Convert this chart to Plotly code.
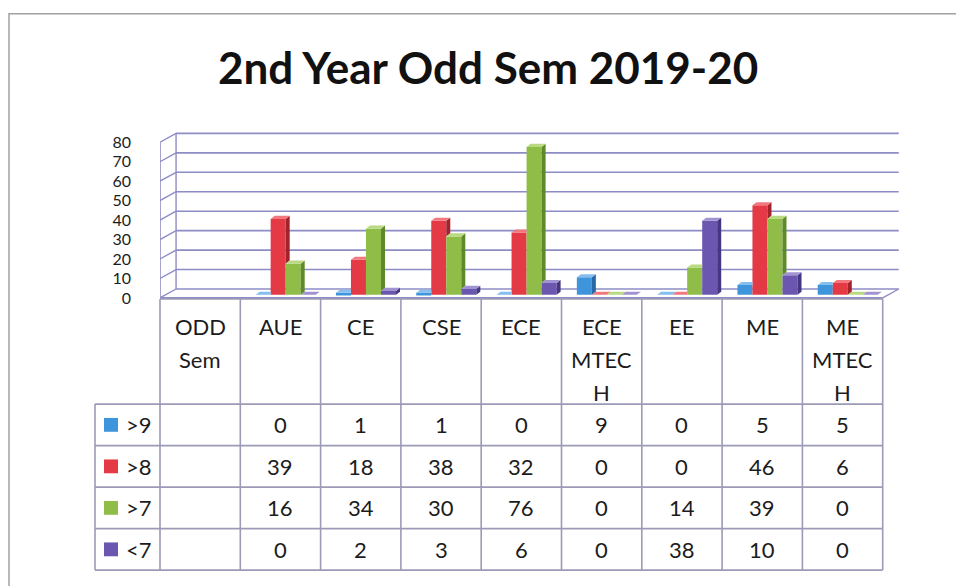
import plotly.graph_objects as go

# ---------------- data ----------------
categories = ["ODD Sem", "AUE", "CE", "CSE", "ECE", "ECE MTECH", "EE", "ME", "ME MTECH"]
header_labels = ["ODD<br>Sem", "AUE", "CE", "CSE", "ECE", "ECE<br>MTEC<br>H", "EE", "ME", "ME<br>MTEC<br>H"]
series_names = [">9", ">8", ">7", "<7"]
s_gt9 = [None, 0, 1, 1, 0, 9, 0, 5, 5]
s_gt8 = [None, 39, 18, 38, 32, 0, 0, 46, 6]
s_gt7 = [None, 16, 34, 30, 76, 0, 14, 39, 0]
s_lt7 = [None, 0, 2, 3, 6, 0, 38, 10, 0]
y_ticks = [0, 10, 20, 30, 40, 50, 60, 70, 80]
title_text = "2nd Year Odd Sem 2019-20"

series_values = [s_gt9, s_gt8, s_gt7, s_lt7]
front_cols = ["#3f95dc", "#e43a46", "#8fbd48", "#6c57b0"]
side_cols = ["#2768a6", "#a3232d", "#5f8a2b", "#463783"]
top_cols = ["#84bff0", "#f2777f", "#b9d982", "#a192d2"]

# ---------------- layout geometry ----------------
W, H = 956, 586
X0, U = 160.0, 80.3          # px of category -0.5, px per category
Y0, V = 301.5, 1.969         # px of value 0 (front plane), px per unit
XR = (-0.5, 8.75)
YR = (-1.0, 86.0)
DX, DY = 0.2, 4.57           # depth of the walls (data units)
DXB, BASE = 0.065, 1.6       # bar row position inside the depth
BW = 0.187                   # bar width
SDX, SDY = 0.05, 1.6         # bar depth

def px_x(u):
    return X0 + (u - XR[0]) * U

def px_y(v):
    return Y0 - v * V

def PX(p):
    return p / W

def PY(p):
    return 1 - p / H

GRID = "#8e8cc4"
TLINE = "#9c9ab6"
FONT = "Lato"
TXT = "#1c1c1c"

fig = go.Figure()

# ---------------- bars ----------------
nc = len(categories)
for k, (name, vals) in enumerate(zip(series_names, series_values)):
    xs, ys = [], []
    for i, v in enumerate(vals):
        if v is None:
            continue
        xs.append(i + DXB + (k - 1.5) * BW)
        ys.append(v)
    fig.add_trace(go.Bar(x=xs, y=ys, base=BASE, width=BW, name=name,
                         marker=dict(color=front_cols[k], line=dict(width=0)),
                         showlegend=False, hoverinfo="skip"))

for k, vals in enumerate(series_values):
    tx, ty, sx, sy = [], [], [], []
    for i, v in enumerate(vals):
        if v is None:
            continue
        xl = i + DXB + (k - 1.5) * BW - BW / 2
        xr = xl + BW
        top = BASE + v
        nxt = None
        if k < 3:
            nv = series_values[k + 1][i]
            nxt = BASE + (nv if nv is not None else 0)
        # top face
        if nxt is not None and nxt > top:
            tx += [xl, xr, xr, xl + SDX, xl, None]
            ty += [top, top, top + SDY, top + SDY, top, None]
        else:
            tx += [xl, xr, xr + SDX, xl + SDX, xl, None]
            ty += [top, top, top + SDY, top + SDY, top, None]
        # side face
        lower = BASE if nxt is None else max(BASE, nxt)
        if top > lower:
            sx += [xr, xr, xr + SDX, xr + SDX, xr, None]
            sy += [lower, top, top + SDY, lower + SDY, lower, None]
    fig.add_trace(go.Scatter(x=sx, y=sy, mode="lines", fill="toself",
                             fillcolor=side_cols[k], line=dict(width=0, color=side_cols[k]),
                             showlegend=False, hoverinfo="skip"))
    fig.add_trace(go.Scatter(x=tx, y=ty, mode="lines", fill="toself",
                             fillcolor=top_cols[k], line=dict(width=0, color=top_cols[k]),
                             showlegend=False, hoverinfo="skip"))

shapes = []
# back wall grid, left wall diagonals
for v in y_ticks:
    shapes.append(dict(type="line", xref="x", yref="y", x0=XR[0] + DX, x1=8.5 + DX,
                       y0=v + DY, y1=v + DY, line=dict(color=GRID, width=1.6), layer="below"))
    shapes.append(dict(type="line", xref="x", yref="y", x0=-0.5, x1=-0.5 + DX,
                       y0=v, y1=v + DY, line=dict(color=GRID, width=1.4), layer="below"))
shapes.append(dict(type="line", xref="x", yref="y", x0=-0.5 + DX, x1=-0.5 + DX,
                   y0=DY, y1=y_ticks[-1] + DY, line=dict(color=GRID, width=1.4), layer="below"))
shapes.append(dict(type="line", xref="x", yref="y", x0=-0.5, x1=-0.5,
                   y0=0, y1=y_ticks[-1], line=dict(color=GRID, width=1.6), layer="below"))
# floor
shapes.append(dict(type="line", xref="x", yref="y", x0=-0.5, x1=8.5, y0=0, y1=0,
                   line=dict(color=GRID, width=1.6), layer="below"))
shapes.append(dict(type="line", xref="x", yref="y", x0=8.5, x1=8.5 + DX, y0=0, y1=DY,
                   line=dict(color=GRID, width=1.4), layer="below"))

# ---------------- data table ----------------
row_edges = [302.5, 409, 451, 493, 535, 577]
leg_left = 95
col_px = [X0 + i * U for i in range(nc + 1)]
for cp in col_px:
    shapes.append(dict(type="line", xref="paper", yref="paper", x0=PX(cp), x1=PX(cp),
                       y0=PY(row_edges[0]), y1=PY(row_edges[-1]), line=dict(color=TLINE, width=1.6)))
shapes.append(dict(type="line", xref="paper", yref="paper", x0=PX(leg_left), x1=PX(leg_left),
                   y0=PY(row_edges[1]), y1=PY(row_edges[-1]), line=dict(color=TLINE, width=1.6)))
for j, re_ in enumerate(row_edges):
    xs0 = col_px[0] if j == 0 else leg_left
    shapes.append(dict(type="line", xref="paper", yref="paper", x0=PX(xs0), x1=PX(col_px[-1]),
                       y0=PY(re_), y1=PY(re_), line=dict(color=TLINE, width=1.6)))

TFS = 22
annotations = []
# header labels
for i, lab in enumerate(header_labels):
    cx = (col_px[i] + col_px[i + 1]) / 2
    for li, part in enumerate(lab.split("<br>")):
        annotations.append(dict(xref="paper", yref="paper", x=PX(cx), y=PY(330 + 33.5 * li),
                                text=part, showarrow=False, xanchor="center", yanchor="middle",
                                font=dict(family=FONT, size=TFS, color=TXT)))
# values + legend keys
for r, (name, vals) in enumerate(zip(series_names, series_values)):
    cy = (row_edges[r + 1] + row_edges[r + 2]) / 2
    for i, v in enumerate(vals):
        if v is None:
            continue
        cx = (col_px[i] + col_px[i + 1]) / 2
        annotations.append(dict(xref="paper", yref="paper", x=PX(cx), y=PY(cy), text=str(v),
                                showarrow=False, xanchor="center", yanchor="middle",
                                font=dict(family=FONT, size=TFS, color=TXT)))
    shapes.append(dict(type="rect", xref="paper", yref="paper", x0=PX(104), x1=PX(118),
                       y0=PY(cy - 7), y1=PY(cy + 7), fillcolor=front_cols[r], line=dict(width=0)))
    annotations.append(dict(xref="paper", yref="paper", x=PX(124), y=PY(cy), text=name,
                            showarrow=False, xanchor="left", yanchor="middle",
                            font=dict(family=FONT, size=TFS, color=TXT)))

# title
annotations.append(dict(xref="paper", yref="paper", x=PX(488), y=PY(68), text="<b>" + title_text + "</b>",
                        showarrow=False, xanchor="center", yanchor="middle",
                        font=dict(family=FONT, size=44, color="#111111")))

# outer frame
shapes.append(dict(type="rect", xref="paper", yref="paper", x0=PX(9), x1=PX(990),
                   y0=PY(14), y1=PY(620), line=dict(color="#a2a2a2", width=1.5)))

fig.update_layout(
    width=W, height=H,
    margin=dict(l=0, r=0, t=0, b=0),
    paper_bgcolor="white", plot_bgcolor="rgba(0,0,0,0)",
    barmode="overlay",
    showlegend=False,
    shapes=shapes, annotations=annotations,
    xaxis=dict(range=list(XR), domain=[PX(px_x(XR[0])), PX(px_x(XR[1]))],
               showgrid=False, zeroline=False, showticklabels=False, ticks="", showline=False),
    yaxis=dict(range=list(YR), domain=[PY(px_y(YR[0])), PY(px_y(YR[1]))],
               tickvals=y_ticks, ticktext=[str(t) for t in y_ticks],
               showgrid=False, zeroline=False, ticks="", showline=False,
               ticklabelstandoff=28,
               tickfont=dict(family=FONT, size=16, color=TXT)),
)

fig.write_html("out.html", config={"displayModeBar": False},
               post_script="document.body.style.margin='0';")
